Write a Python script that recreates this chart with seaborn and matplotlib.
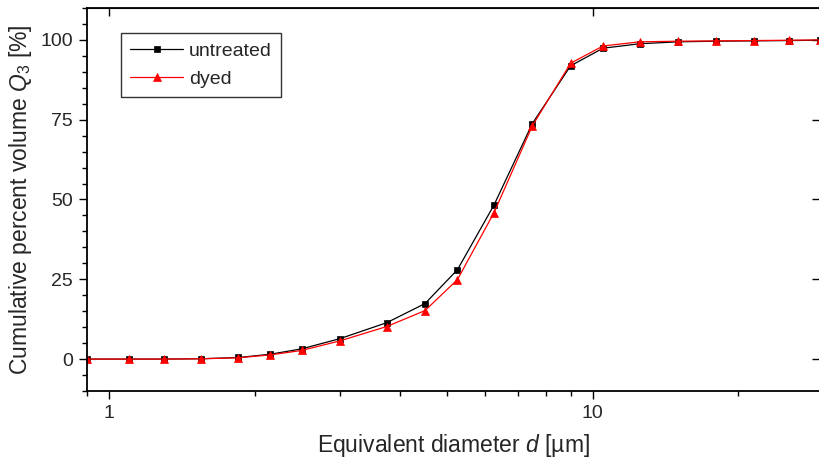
"""
plot.py - Cumulative particle size distribution, untreated vs dyed.
"""

import matplotlib
matplotlib.use("Agg")
import matplotlib.pyplot as plt
import matplotlib.ticker as mticker
import pandas as pd
import seaborn as sns

# Data
diameter_um = [0.9, 1.1, 1.3, 1.55, 1.85, 2.15, 2.5, 3.0, 3.75, 4.5, 5.25,
               6.25, 7.5, 9.0, 10.5, 12.5, 15.0, 18.0, 21.5, 25.5, 29.5]
untreated_q3 = [0.0, 0.0, 0.0, 0.1, 0.5, 1.5, 3.2, 6.4, 11.4, 17.4, 28.0,
                48.3, 73.8, 91.9, 97.4, 98.8, 99.4, 99.6, 99.7, 99.8, 99.9]
dyed_q3 = [0.0, 0.0, 0.0, 0.1, 0.4, 1.3, 2.7, 5.7, 10.2, 15.2, 24.9,
           45.9, 73.1, 92.7, 98.1, 99.4, 99.6, 99.7, 99.8, 99.9, 100.0]

x_ticks = [1, 10]
y_ticks = [0, 25, 50, 75, 100]


def main() -> None:
    sns.set_style("white")
    plt.rcParams["font.family"] = ["Liberation Sans", "DejaVu Sans"]
    plt.rcParams["mathtext.fontset"] = "custom"
    plt.rcParams["mathtext.rm"] = "Liberation Sans"
    plt.rcParams["mathtext.it"] = "Liberation Sans:italic"

    df = pd.DataFrame({"d": diameter_um, "untreated": untreated_q3, "dyed": dyed_q3})

    fig = plt.figure(figsize=(8.19, 4.61), dpi=100)
    ax = fig.add_axes([87 / 819, 70 / 461, 733 / 819, 383 / 461])

    sns.lineplot(data=df, x="d", y="untreated", ax=ax, color="black",
                 marker="s", markersize=4.5, markeredgecolor="black",
                 markeredgewidth=0.5, linewidth=0.9, label="untreated")
    sns.lineplot(data=df, x="d", y="dyed", ax=ax, color="red",
                 marker="^", markersize=6, markeredgecolor="red",
                 markeredgewidth=0.5, linewidth=0.9, label="dyed")

    ax.set_xscale("log")
    ax.set_xlim(0.9, 29.5)
    ax.set_ylim(-10, 110)

    ax.xaxis.set_major_locator(mticker.FixedLocator(x_ticks))
    ax.xaxis.set_major_formatter(mticker.FormatStrFormatter("%g"))
    ax.xaxis.set_minor_locator(mticker.LogLocator(base=10, subs=range(2, 10)))
    ax.xaxis.set_minor_formatter(mticker.NullFormatter())
    ax.yaxis.set_major_locator(mticker.FixedLocator(y_ticks))
    ax.yaxis.set_minor_locator(mticker.MultipleLocator(5))

    ax.tick_params(which="both", bottom=True, left=True, top=False, right=False)
    ax.tick_params(which="major", direction="out", length=6, width=1,
                   labelsize=14, pad=4, color="black")
    ax.tick_params(which="minor", direction="out", length=3.5, width=1,
                   color="black")
    for side in ax.spines.values():
        side.set_color("black")
        side.set_linewidth(1.3)

    # mirrored axes: ticks pointing inwards, no labels
    top = ax.secondary_xaxis("top")
    top.set_xticks(x_ticks)
    top.xaxis.set_minor_locator(mticker.NullLocator())
    top.tick_params(which="major", top=True, direction="in", length=6,
                    width=1, labeltop=False, color="black")
    right = ax.secondary_yaxis("right")
    right.set_yticks(y_ticks)
    right.yaxis.set_minor_locator(mticker.NullLocator())
    right.tick_params(which="major", right=True, direction="in", length=6,
                      width=1, labelright=False, color="black")

    ax.set_xlabel("Equivalent diameter $d$ [µm]", fontsize=16.5, labelpad=7)
    ax.set_ylabel("Cumulative percent volume $Q_3$ [%]", fontsize=16.5, labelpad=5)

    leg = ax.legend(loc="upper left", bbox_to_anchor=(0.046, 0.935),
                    borderaxespad=0, fontsize=14, frameon=True, fancybox=False,
                    edgecolor="#333333", framealpha=1, handlelength=2.7,
                    handletextpad=0.3, borderpad=0.5, labelspacing=0.5)
    leg.get_frame().set_linewidth(1.0)

    fig.savefig("out.png", dpi=100)


if __name__ == "__main__":
    main()
